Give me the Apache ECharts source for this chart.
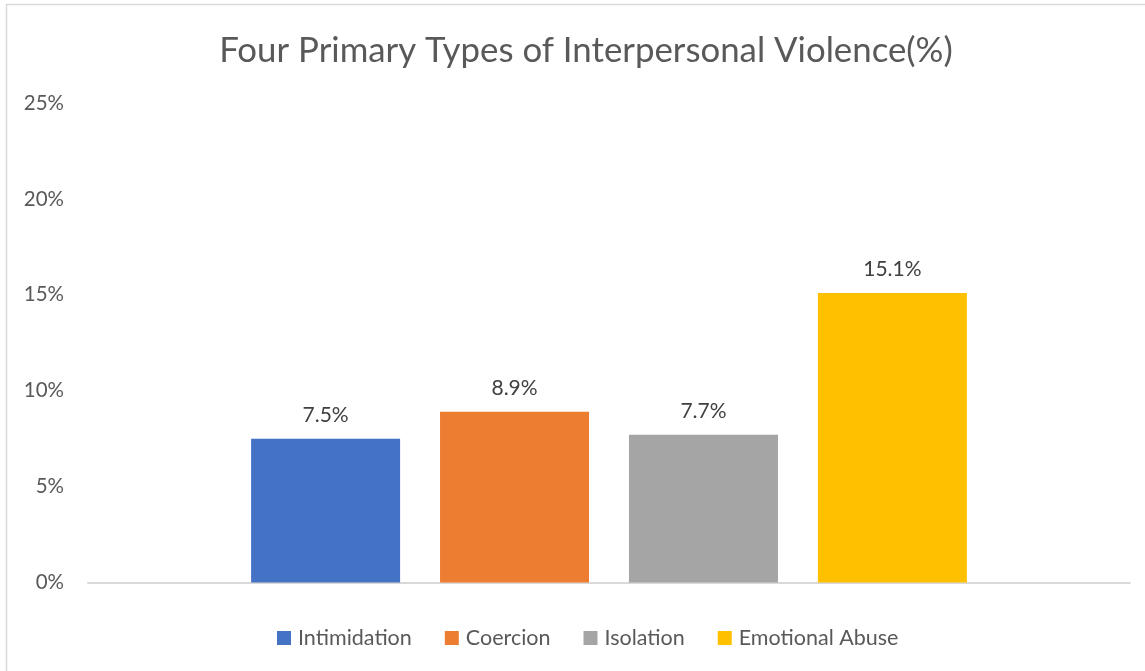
<!DOCTYPE html>
<html>
<head>
<meta charset="utf-8">
<script src="https://cdn.jsdelivr.net/npm/echarts@6/dist/echarts.min.js"></script>
<style>
  html, body { margin: 0; padding: 0; background: #ffffff; }
  #chart { width: 1145px; height: 671px; }
</style>
</head>
<body>
<div id="chart"></div>
<script>
// Share of respondents reporting each type of violence (%)
const categories = ['Four Primary Types'];
const seriesNames = ['Intimidation', 'Coercion', 'Isolation', 'Emotional Abuse'];
const seriesValues = [7.5, 8.9, 7.7, 15.1];
const seriesColors = ['#4472C4', '#ED7D31', '#A5A5A5', '#FFC000'];
const yTicks = [0, 5, 10, 15, 20, 25];

const FONT = 'Lato, "Open Sans", sans-serif';

const chart = echarts.init(document.getElementById('chart'), null, { renderer: 'canvas' });

const series = seriesNames.map((name, i) => ({
  name: name,
  type: 'bar',
  data: [seriesValues[i]],
  barWidth: 149,
  barGap: '26.8%',
  itemStyle: { color: seriesColors[i] },
  label: {
    show: true,
    position: 'top',
    distance: 13,
    formatter: p => p.value.toFixed(1) + '%',
    color: '#404040',
    fontSize: 21,
    fontFamily: FONT
  }
}));

chart.setOption({
  backgroundColor: '#ffffff',
  animation: false,
  title: {
    text: 'Four Primary Types of Interpersonal Violence(%)',
    left: 581,
    textAlign: 'center',
    top: 28,
    textStyle: { color: '#595959', fontSize: 34.8, fontWeight: 'normal', fontFamily: FONT }
  },
  legend: {
    data: seriesNames,
    bottom: 17,
    left: 272,
    itemWidth: 14,
    itemHeight: 14,
    itemGap: 33,
    icon: 'rect',
    textStyle: { color: '#595959', fontSize: 21.5, fontFamily: FONT, padding: [0, 0, 0, 2] }
  },
  grid: { left: 88, right: 15, top: 103, bottom: 88.5, containLabel: false },
  xAxis: {
    type: 'category',
    data: categories,
    axisLine: { lineStyle: { color: '#D9D9D9', width: 1.8 } },
    axisTick: { show: false },
    axisLabel: { show: false }
  },
  yAxis: {
    type: 'value',
    min: yTicks[0],
    max: yTicks[yTicks.length - 1],
    interval: 5,
    axisLine: { show: false },
    axisTick: { show: false },
    splitLine: { show: false },
    axisLabel: {
      formatter: v => v + '%',
      color: '#595959',
      fontSize: 20.5,
      fontFamily: FONT,
      margin: 24
    }
  },
  graphic: [{
    type: 'rect',
    shape: { x: 6.5, y: 4.5, width: 1170, height: 700 },
    style: { fill: 'none', stroke: '#D9D9D9', lineWidth: 1.5 },
    silent: true,
    z: -1
  }],
  series: series
});
</script>
</body>
</html>
